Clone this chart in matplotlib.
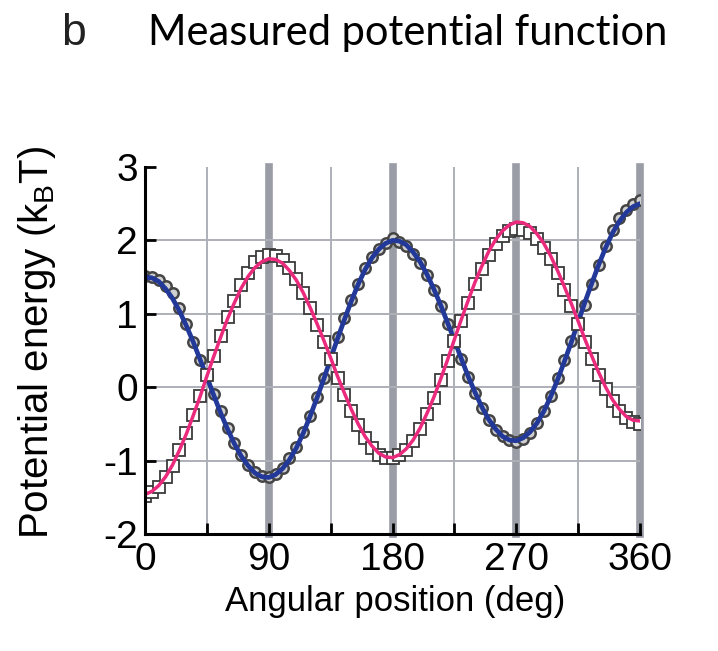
import matplotlib
matplotlib.use('Agg')
import matplotlib.pyplot as plt
import numpy as np

plt.rcParams['font.family'] = ['Liberation Sans', 'DejaVu Sans']
plt.rcParams['mathtext.fontset'] = 'custom'
plt.rcParams['mathtext.rm'] = 'Liberation Sans'
plt.rcParams['mathtext.it'] = 'Liberation Sans'
plt.rcParams['axes.unicode_minus'] = False

# angle samples (deg)
angle = list(range(0, 361, 5))

# measured points, circles (blue fit) and squares (pink fit)
circles = [1.52, 1.50, 1.46, 1.38, 1.28, 1.08, 0.86, 0.62, 0.37, 0.15,
           -0.09, -0.33, -0.56, -0.76, -0.93, -1.06, -1.16, -1.21, -1.22,
           -1.18, -1.10, -0.97, -0.81, -0.61, -0.39, -0.13, 0.13, 0.40,
           0.68, 0.94, 1.19, 1.41, 1.62, 1.78, 1.88, 1.97, 2.03,
           1.98, 1.92, 1.82, 1.69, 1.53, 1.33, 1.10, 0.86, 0.62,
           0.38, 0.14, -0.08, -0.28, -0.45, -0.58, -0.67, -0.72, -0.74,
           -0.70, -0.62, -0.49, -0.33, -0.12, 0.12, 0.37, 0.63, 0.90,
           1.12, 1.40, 1.66, 1.92, 2.14, 2.30, 2.42, 2.50, 2.55]
squares = [-1.48, -1.43, -1.36, -1.23, -1.07, -0.86, -0.63, -0.38, -0.12, 0.16,
           0.43, 0.70, 0.95, 1.18, 1.39, 1.56, 1.70, 1.78, 1.80,
           1.79, 1.73, 1.62, 1.47, 1.29, 1.08, 0.85, 0.62, 0.38,
           0.13, -0.10, -0.32, -0.52, -0.69, -0.83, -0.93, -0.97, -0.97,
           -0.93, -0.85, -0.73, -0.57, -0.37, -0.15, 0.10, 0.36, 0.63,
           0.90, 1.15, 1.40, 1.61, 1.80, 1.95, 2.06, 2.13, 2.16,
           2.14, 2.10, 2.02, 1.90, 1.74, 1.55, 1.33, 1.10, 0.86,
           0.61, 0.38, 0.16, -0.03, -0.19, -0.32, -0.42, -0.47, -0.50]

# fitted curves
blue_fit = [1.50, 1.49, 1.44, 1.34, 1.21, 1.04, 0.84, 0.62, 0.38, 0.14,
            -0.11, -0.35, -0.57, -0.77, -0.94, -1.07, -1.17, -1.22, -1.23,
            -1.19, -1.11, -0.99, -0.83, -0.63, -0.40, -0.15, 0.11, 0.39,
            0.66, 0.92, 1.17, 1.40, 1.60, 1.76, 1.88, 1.96, 2.00,
            1.99, 1.94, 1.84, 1.71, 1.54, 1.34, 1.12, 0.88, 0.64,
            0.39, 0.15, -0.07, -0.27, -0.44, -0.57, -0.67, -0.72, -0.73,
            -0.69, -0.61, -0.49, -0.33, -0.13, 0.10, 0.35, 0.61, 0.89,
            1.16, 1.42, 1.67, 1.90, 2.10, 2.26, 2.38, 2.46, 2.50]
pink_fit = [-1.46, -1.42, -1.34, -1.22, -1.06, -0.86, -0.64, -0.39, -0.13, 0.15,
            0.42, 0.68, 0.93, 1.15, 1.35, 1.51, 1.63, 1.71, 1.75,
            1.74, 1.69, 1.59, 1.46, 1.29, 1.09, 0.87, 0.64, 0.40,
            0.15, -0.08, -0.30, -0.50, -0.67, -0.80, -0.90, -0.95, -0.96,
            -0.92, -0.84, -0.72, -0.56, -0.36, -0.14, 0.11, 0.37, 0.65,
            0.92, 1.18, 1.43, 1.65, 1.85, 2.01, 2.13, 2.21, 2.25,
            2.24, 2.19, 2.09, 1.96, 1.79, 1.59, 1.37, 1.14, 0.90,
            0.65, 0.42, 0.20, 0.00, -0.17, -0.30, -0.40, -0.45, -0.46]

xticks = [0, 90, 180, 270, 360]
minor_x = [45, 135, 225, 315]
yticks = [-2, -1, 0, 1, 2, 3]

fig = plt.figure(figsize=(7.18, 6.51), dpi=100)
ax = fig.add_axes([145 / 718, 117 / 651, 495 / 718, 367 / 651])
ax.set_xlim(0, 360)
ax.set_ylim(-2, 3)

# grid
for x in minor_x:
    ax.axvline(x, color='#aeb0b8', lw=1.4, zorder=0)
for x in xticks[1:]:
    ax.axvline(x, color='#9a9da5', lw=5.5, zorder=0, clip_on=False)
for y in [-1, 0, 1, 2]:
    ax.axhline(y, color='#aeb0b8', lw=1.4, zorder=0)

ax.plot(angle, circles, 'o', ms=7.5, mfc='#d0d0d0', mec='#454545', mew=1.8, zorder=2)
ax.plot(angle, blue_fit, color='#23399a', lw=3.4, zorder=3)
ax.plot(angle, squares, 's', ms=8, mfc='white', mec='#3a3a3a', mew=1.3, zorder=4)
ax.plot(angle, pink_fit, color='#ea2a7c', lw=2.5, zorder=5)

for s in ['top', 'right']:
    ax.spines[s].set_visible(False)
for s in ['left', 'bottom']:
    ax.spines[s].set_linewidth(2.2)
    ax.spines[s].set_zorder(6)

ax.set_xticks(xticks + minor_x)
ax.set_xticklabels([str(v) for v in xticks] + [''] * len(minor_x))
ax.set_yticks(yticks)
ax.set_yticklabels([str(v) for v in yticks])
ax.tick_params(direction='in', length=8, width=2, labelsize=28, color='black')
ax.tick_params(axis='x', pad=6)
ax.tick_params(axis='y', pad=5)

fig.text(37 / 718, 1 - 342 / 651, r'Potential energy (k$_{\mathrm{B}}$T)',
         rotation=90, ha='center', va='center', fontsize=29)
fig.text(395 / 718, 1 - 602 / 651, 'Angular position (deg)',
         ha='center', va='center', fontsize=25)

fig.text(61 / 718, 1 - 45 / 651, 'b', fontsize=32, color='#222222',
         family=['Liberation Sans', 'DejaVu Sans'], va='baseline')
fig.text(148 / 718, 1 - 45 / 651, 'Measured potential function', fontsize=30,
         family=['Lato', 'DejaVu Sans'], va='baseline')

fig.savefig('out.png', dpi=100)
